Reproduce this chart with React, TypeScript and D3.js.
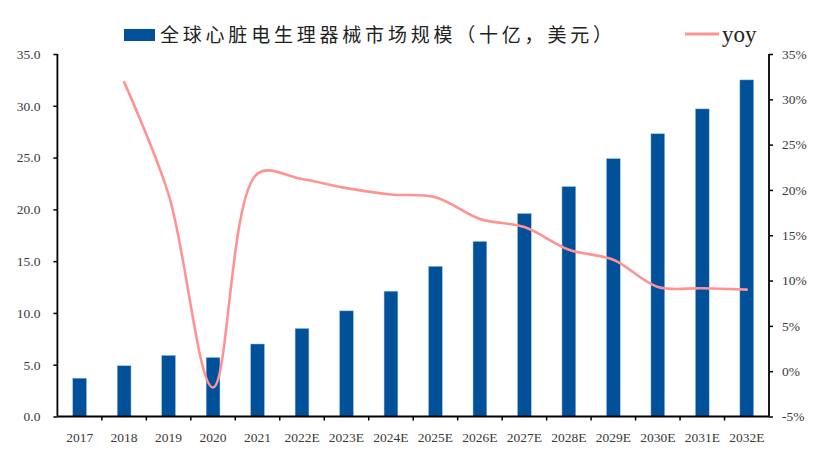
import React, { useEffect, useRef } from 'react';
import * as d3 from 'd3';

const years = [
  '2017', '2018', '2019', '2020', '2021', '2022E', '2023E', '2024E',
  '2025E', '2026E', '2027E', '2028E', '2029E', '2030E', '2031E', '2032E',
];

// 全球心脏电生理器械市场规模（十亿，美元）
const marketSize = [
  3.7, 4.9, 5.9, 5.7, 7.0, 8.5, 10.2, 12.1,
  14.5, 16.9, 19.6, 22.2, 24.9, 27.3, 29.7, 32.5,
];

// yoy, % (no value for 2017)
const yoy: Array<number | null> = [
  null, 31.9, 19.5, -1.8, 21.8, 21.2, 20.2, 19.5,
  19.2, 16.8, 15.9, 13.4, 12.3, 9.3, 9.15, 9.0,
];

const leftTicks = [0, 5, 10, 15, 20, 25, 30, 35];
const rightTicks = [-5, 0, 5, 10, 15, 20, 25, 30, 35];

const barName = '全球心脏电生理器械市场规模（十亿，美元）';
const lineName = 'yoy';

const BAR_COLOR = '#00509A';
const LINE_COLOR = '#FF9393';
const TEXT_COLOR = '#3a3a3a';

export default function App() {
  const ref = useRef<SVGSVGElement>(null);

  useEffect(() => {
    const width = 831;
    const height = 455;
    const margin = { top: 54, bottom: 38.5, left: 57.4, right: 62 };

    const svg = d3.select(ref.current);
    svg.selectAll('*').remove();

    const xScale = d3
      .scaleBand()
      .domain(years)
      .range([margin.left, width - margin.right])
      .paddingInner(0)
      .paddingOuter(0);

    const yLeft = d3
      .scaleLinear()
      .domain([0, 35])
      .range([height - margin.bottom, margin.top]);

    const yRight = d3
      .scaleLinear()
      .domain([-5, 35])
      .range([height - margin.bottom, margin.top]);

    const barWidth = xScale.bandwidth() * 0.31;

    // bars
    svg
      .append('g')
      .selectAll('rect')
      .data(years)
      .enter()
      .append('rect')
      .attr('x', (d) => (xScale(d) as number) + (xScale.bandwidth() - barWidth) / 2)
      .attr('y', (d, i) => yLeft(marketSize[i]))
      .attr('width', barWidth)
      .attr('height', (d, i) => yLeft(0) - yLeft(marketSize[i]))
      .attr('fill', BAR_COLOR)
      .attr('stroke', '#9cc2e5')
      .attr('stroke-width', 0.5);

    // yoy line
    const linePoints = years
      .map((y, i) => ({ year: y, value: yoy[i] }))
      .filter((d) => d.value !== null) as { year: string; value: number }[];

    const line = d3
      .line<{ year: string; value: number }>()
      .x((d) => (xScale(d.year) as number) + xScale.bandwidth() / 2)
      .y((d) => yRight(d.value))
      .curve(d3.curveCatmullRom.alpha(0.5));

    svg
      .append('path')
      .datum(linePoints)
      .attr('d', line)
      .attr('fill', 'none')
      .attr('stroke', LINE_COLOR)
      .attr('stroke-width', 2.6)
      .attr('stroke-linecap', 'round');

    // axes
    const leftAxis = d3
      .axisLeft(yLeft)
      .tickValues(leftTicks)
      .tickFormat((d) => d3.format('.1f')(d as number))
      .tickSize(4)
      .tickPadding(13);

    const rightAxis = d3
      .axisRight(yRight)
      .tickValues(rightTicks)
      .tickFormat((d) => `${d}%`)
      .tickSize(4)
      .tickPadding(9);

    const gLeft = svg
      .append('g')
      .attr('transform', `translate(${margin.left}, 0)`)
      .call(leftAxis);

    const gRight = svg
      .append('g')
      .attr('transform', `translate(${width - margin.right}, 0)`)
      .call(rightAxis);

    // x axis: ticks between categories, pointing down
    const gBottom = svg
      .append('g')
      .attr('transform', `translate(0, ${yLeft(0)})`);

    gBottom
      .append('line')
      .attr('x1', margin.left)
      .attr('x2', width - margin.right)
      .attr('stroke', '#000')
      .attr('stroke-width', 1.8);

    gBottom
      .selectAll('line.tick')
      .data(years.slice(1))
      .enter()
      .append('line')
      .attr('class', 'tick')
      .attr('x1', (d) => xScale(d) as number)
      .attr('x2', (d) => xScale(d) as number)
      .attr('y1', 0)
      .attr('y2', 4)
      .attr('stroke', '#000')
      .attr('stroke-width', 1.5);

    gBottom
      .selectAll('text')
      .data(years)
      .enter()
      .append('text')
      .attr('x', (d) => (xScale(d) as number) + xScale.bandwidth() / 2)
      .attr('y', 25)
      .attr('text-anchor', 'middle')
      .text((d) => d);

    for (const g of [gLeft, gRight, gBottom]) {
      g.select('.domain').attr('stroke', '#000').attr('stroke-width', 1.8);
      g.selectAll('.tick line').attr('stroke', '#000').attr('stroke-width', 1.5);
      g.selectAll('text')
        .attr('fill', TEXT_COLOR)
        .attr('font-family', '"Liberation Serif", "Times New Roman", serif')
        .attr('font-size', 13.5);
    }
    gLeft.select('.domain').attr('d', `M0,${yLeft(35)}V${yLeft(0)}`);
    gRight.select('.domain').attr('d', `M0,${yRight(35)}V${yRight(-5)}`);

    // legend
    const legend = svg.append('g');

    legend
      .append('rect')
      .attr('x', 124)
      .attr('y', 29)
      .attr('width', 31)
      .attr('height', 12)
      .attr('fill', BAR_COLOR);

    legend
      .append('text')
      .attr('x', 160)
      .attr('y', 42)
      .attr('font-family', '"Noto Sans CJK SC", sans-serif')
      .attr('font-size', 19)
      .attr('fill', '#222')
      .attr('textLength', 452)
      .attr('lengthAdjust', 'spacing')
      .text(barName);

    legend
      .append('line')
      .attr('x1', 685)
      .attr('x2', 719)
      .attr('y1', 34)
      .attr('y2', 34)
      .attr('stroke', LINE_COLOR)
      .attr('stroke-width', 3);

    legend
      .append('text')
      .attr('x', 722)
      .attr('y', 42)
      .attr('font-family', '"Liberation Serif", "Times New Roman", serif')
      .attr('font-size', 23)
      .attr('fill', '#222')
      .text(lineName);
  }, []);

  return (
    <svg
      ref={ref}
      width={831}
      height={455}
      style={{ position: 'absolute', left: 0, top: 0, background: '#fff' }}
    />
  );
}
